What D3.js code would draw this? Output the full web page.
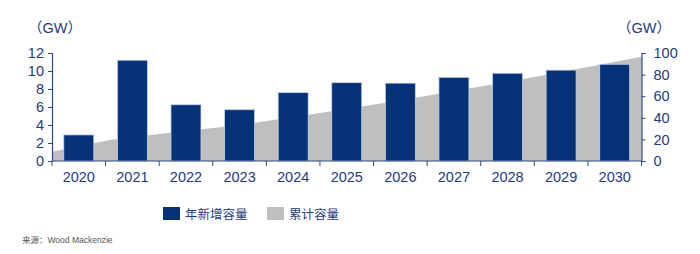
<!DOCTYPE html>
<html>
<head>
<meta charset="utf-8">
<script src="https://cdn.jsdelivr.net/npm/d3@7/dist/d3.min.js"></script>
<style>
  body { margin: 0; background: #fff; }
  svg { display: block; font-family: "Liberation Sans", Arial, "Noto Sans CJK SC", sans-serif; }
</style>
</head>
<body>
<svg id="chart" width="700" height="254"></svg>
<script>
// data
var years = ["2020", "2021", "2022", "2023", "2024", "2025", "2026", "2027", "2028", "2029", "2030"];
var annual = [2.9, 11.2, 6.25, 5.7, 7.6, 8.7, 8.65, 9.3, 9.75, 10.1, 10.75];
var cumulative = [8.6, 19.7, 26.1, 32.2, 39.9, 48.3, 57.0, 66.5, 76.0, 86.0, 96.6];
var leftTicks = [0, 2, 4, 6, 8, 10, 12];
var rightTicks = [0, 20, 40, 60, 80, 100];
var legendLabels = ["年新增容量", "累计容量"];

(function() {
  var navy = "#063277";
  var grey = "#bfbfbf";
  var textColor = "#1f3c7e";
  var axisColor = "#2a4a8c";

  var svg = d3.select("#chart");
  var x0 = 52, x1 = 641.5, yTop = 53, yBottom = 161;

  var x = d3.scaleBand().domain(years).range([x0, x1]).paddingInner(0.44).paddingOuter(0.22);
  var xPoint = d3.scalePoint().domain(years).range([x0, x1]);
  var yL = d3.scaleLinear().domain([0, 12]).range([yBottom, yTop]);
  var yR = d3.scaleLinear().domain([0, 100]).range([yBottom, yTop]);

  // cumulative area (behind bars)
  var area = d3.area()
    .x(function(d, i) { return xPoint(years[i]); })
    .y0(yBottom)
    .y1(function(d) { return yR(d); });
  svg.append("path").datum(cumulative).attr("d", area).attr("fill", grey);

  // annual bars
  svg.selectAll("rect.bar").data(annual).enter().append("rect")
    .attr("class", "bar")
    .attr("x", function(d, i) { return x(years[i]); })
    .attr("width", x.bandwidth())
    .attr("y", function(d) { return yL(d); })
    .attr("height", function(d) { return yBottom - yL(d); })
    .attr("fill", navy)
    .attr("stroke", "#c9d3e6")
    .attr("stroke-width", 0.8);

  // axes
  var gL = svg.append("g").attr("transform", "translate(" + x0 + ",0)")
    .call(d3.axisLeft(yL).tickValues(leftTicks).tickSize(4).tickPadding(4));
  var gR = svg.append("g").attr("transform", "translate(" + x1 + ",0)")
    .call(d3.axisRight(yR).tickValues(rightTicks).tickSize(4).tickPadding(8));
  var gB = svg.append("g").attr("transform", "translate(0," + yBottom + ")")
    .call(d3.axisBottom(x).tickSize(0).tickPadding(11));

  // category boundary ticks on the bottom axis
  var bounds = d3.range(years.length + 1).map(function(i) { return x0 + i * (x1 - x0) / years.length; });
  gB.selectAll("line.bound").data(bounds).enter().append("line")
    .attr("class", "bound")
    .attr("x1", function(d) { return d; }).attr("x2", function(d) { return d; })
    .attr("y1", 0).attr("y2", 5)
    .attr("stroke", axisColor);

  [gL, gR, gB].forEach(function(g) {
    g.select(".domain").attr("stroke", axisColor).attr("stroke-width", 1.2);
    g.selectAll(".tick line").attr("stroke", axisColor);
    g.selectAll("text").attr("fill", textColor).attr("font-size", 14.5);
  });
  gB.select(".domain").attr("d", "M" + x0 + ",0H" + x1);

  // unit labels
  svg.append("text").attr("x", 28).attr("y", 33).attr("fill", textColor).attr("font-size", 14.5).text("（GW）");
  svg.append("text").attr("x", 617).attr("y", 33).attr("fill", textColor).attr("font-size", 14.5).text("（GW）");

  // legend
  var lx = [163, 267];
  legendLabels.forEach(function(label, i) {
    svg.append("rect").attr("x", lx[i]).attr("y", 207).attr("width", 17).attr("height", 13)
      .attr("fill", i === 0 ? navy : grey);
    svg.append("text").attr("x", lx[i] + 22).attr("y", 218.5)
      .attr("fill", textColor).attr("font-size", 12.5)
      .attr("font-family", "'Noto Sans CJK SC', sans-serif")
      .text(label);
  });

  // source note
  svg.append("text").attr("x", 22).attr("y", 243).attr("fill", "#555").attr("font-size", 8.5)
    .text("来源：Wood Mackenzie");
})();
</script>
</body>
</html>
